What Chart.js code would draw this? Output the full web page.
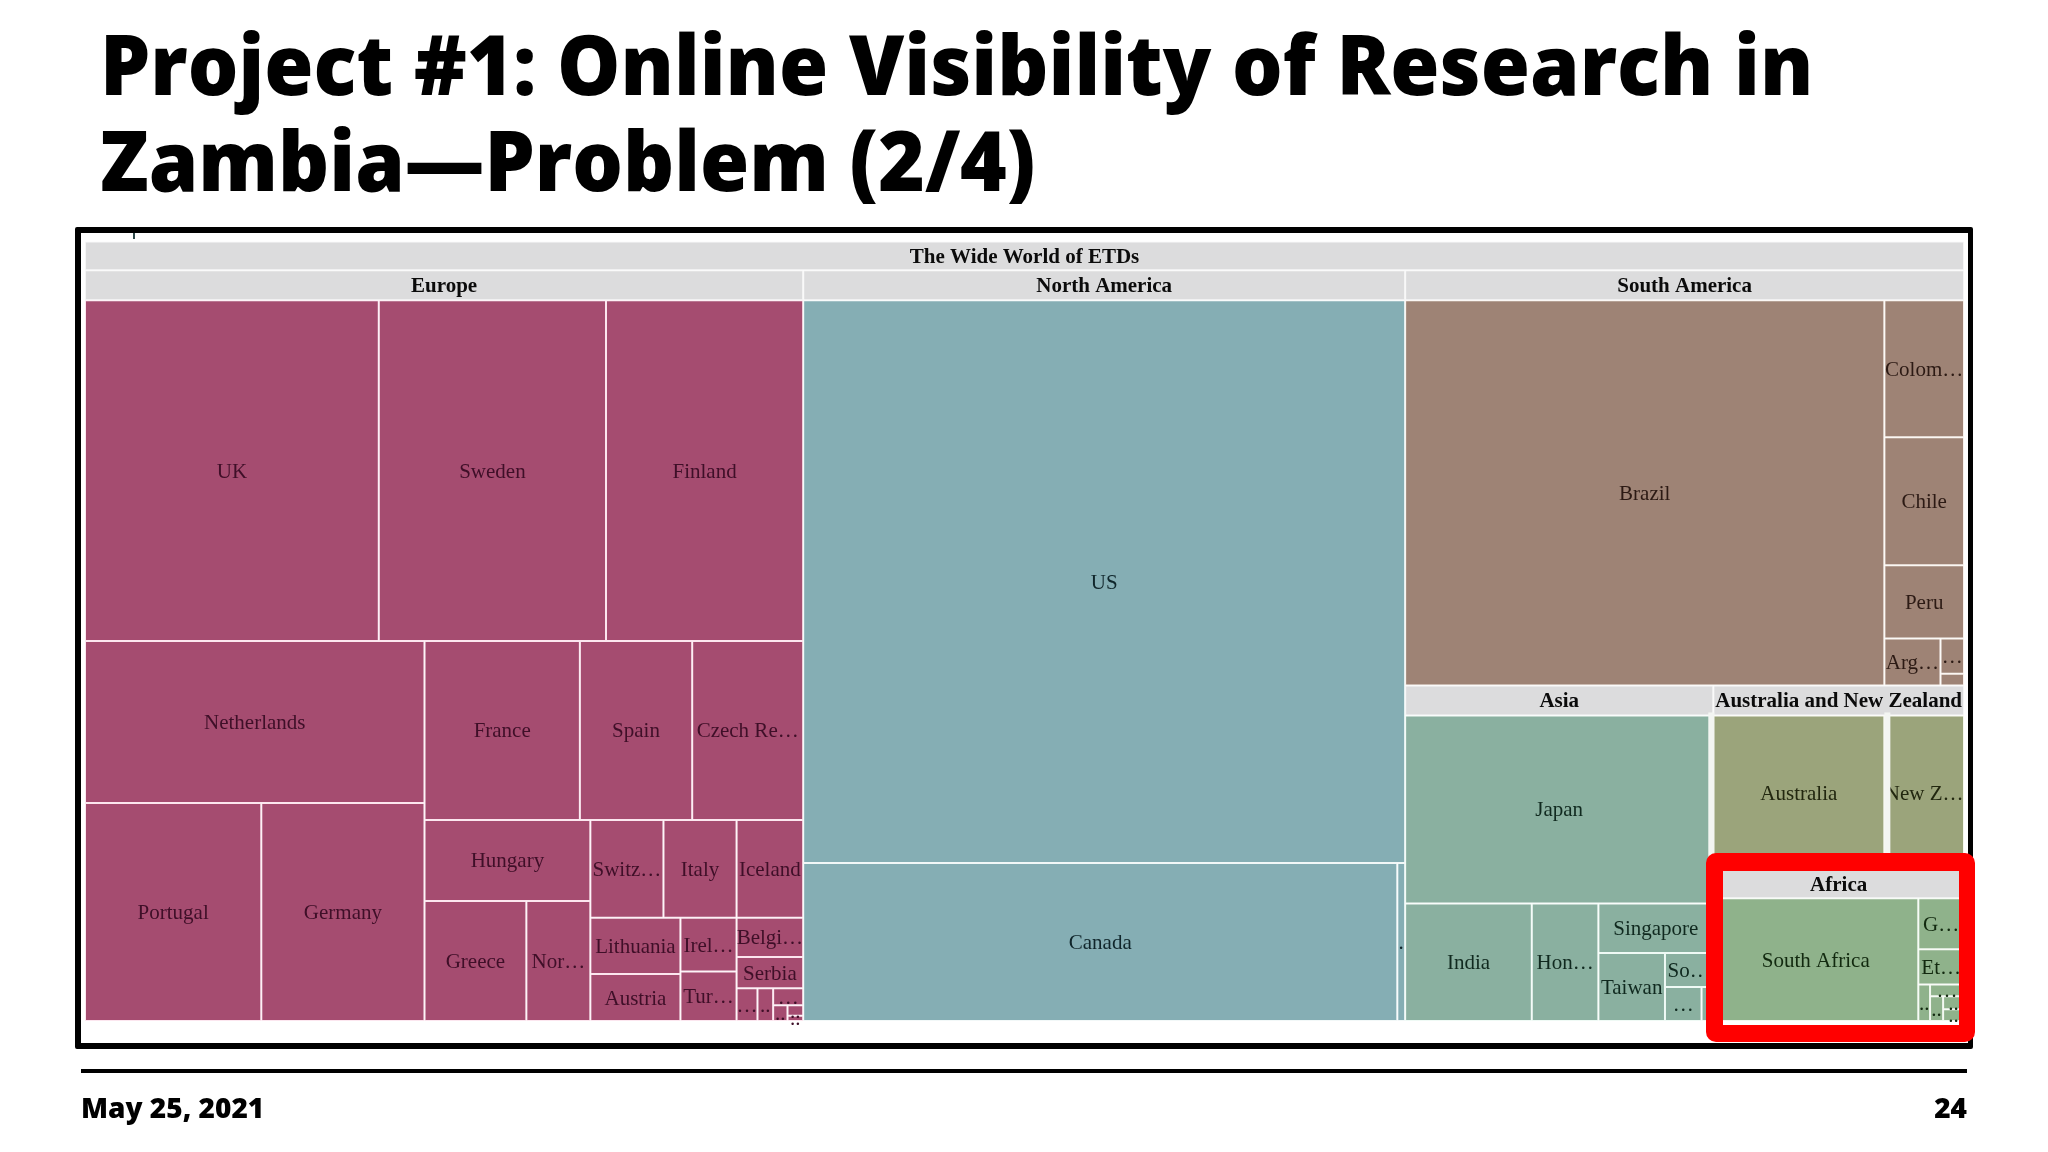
<!DOCTYPE html>
<html><head><meta charset="utf-8">
<style>
html,body{margin:0;padding:0;background:#fff;width:2048px;height:1152px;overflow:hidden}
#c{position:absolute;left:0;top:0}
.t{position:absolute;color:#000;font-family:"Open Sans";white-space:nowrap}
#title{left:100px;top:15px;font-size:83px;font-weight:800;line-height:96px;transform:scaleX(.96);transform-origin:0 0}
#frame{position:absolute;left:75px;top:227px;width:1887px;height:810px;border:solid #000;border-width:6px 5px 6px 6px;border-radius:2px}
#red{position:absolute;left:1706px;top:853px;width:236px;height:154px;border:solid #f00;border-width:18px 16px 17px 17px;border-radius:10px}
#rule{position:absolute;left:81px;top:1069px;width:1886px;height:4px;background:#000}
#date{left:81px;top:1088px;font-size:28px;font-weight:800}
#page{right:81px;top:1088px;font-size:28px;font-weight:800}
#stray{position:absolute;left:133px;top:233px;width:2px;height:6px;background:#2f4a4a}
</style>
<script src="https://cdn.jsdelivr.net/npm/chart.js@4/dist/chart.umd.min.js"></script>
</head><body>
<canvas id="c" width="2048" height="1152"></canvas>
<div id="stray"></div>
<div id="frame"></div>
<div id="red"></div>
<div id="rule"></div>
<div id="title" class="t">Project #1: Online Visibility of Research in<br>Zambia—Problem (2/4)</div>
<div id="date" class="t">May 25, 2021</div>
<div id="page" class="t">24</div>
<script>
const headerNames=['The Wide World of ETDs','Europe','North America','South America','Asia','Australia and New Zealand','Africa'];
const headerValues=[31658,12650,10603,9844,5428,4416,4224];

const europeNames=['UK','Sweden','Finland','Netherlands','Portugal','Germany','France','Spain','Czech Re…','Hungary','Greece','Nor…','Switz…','Italy','Iceland','Lithuania','Austria','Irel…','Tur…','Belgi…','Serbia','…','..','…','..','..','..'];
const europeValues=[58725,45414,39411,32240,22545,20875,16303,11782,11645,7874,7176,4508,4200,4200,3825,2967,2484,1763,1634,1530,1224,400,300,299,132,96,48];
const europeTree=['v',['h',0,1,2],['h',['v',3,['h',4,5]],['v',['h',6,7,8],['h',['v',9,['h',10,11]],['v',['h',12,13,14],['h',['v',15,16],['v',17,18],['v',19,20,['h',21,22,['v',23,['h',24,['v',25,26]]]]]]]]]]];

const northAmericaNames=['US','Canada','.'];
const northAmericaValues=[198691,55055,726];
const northAmericaTree=['v',0,['h',1,2]];

const southAmericaNames=['Brazil','Colom…','Chile','Peru','Arg…','…',''];
const southAmericaValues=[108265,6405,5978,3416,1548,486,162];
const southAmericaTree=['h',0,['v',1,2,3,['h',4,['v',5,6]]]];

const asiaNames=['Japan','India','Hon…','Singapore','Taiwan','So…','…','.'];
const asiaValues=[33984,8730,4590,3344,2652,962,728,234];
const asiaTree=['v',0,['h',1,2,['v',3,['h',4,['v',5,['h',6,7]]]]]];

const oceaniaNames=['Australia','New Z…'];
const oceaniaValues=[15458,7198];

const africaNames=['South Africa','G…','Et…','..','…','..','..','..'];
const africaValues=[14758,1365,945,252,234,190,160,144];
const africaTree=['h',0,['v',1,2,['h',3,['v',4,['h',5,['v',6,7]]]]]];

const groupFill={head:'#dcdcdd',europe:'#a54c70',northAmerica:'#85aeb4',southAmerica:'#9e8375',asia:'#8ab0a0',oceania:'#9ba47b',africa:'#8fb28b'};
const groupInk={head:'#0b0b0b',europe:'#3f0f28',northAmerica:'#10262b',southAmerica:'#2c1a14',asia:'#10291f',oceania:'#22270f',africa:'#12290f'};
const groupLine={head:'#f6f6f6',europe:'#fce6ef',northAmerica:'#f2f8f8',southAmerica:'#f8f1ec',asia:'#effaf5',oceania:'#f5f7ec',africa:'#f1f8ef'};
const retouchColor='#f3f5f2';

const sets={
  head:{names:headerNames,values:headerValues},
  europe:{names:europeNames,values:europeValues},
  northAmerica:{names:northAmericaNames,values:northAmericaValues},
  southAmerica:{names:southAmericaNames,values:southAmericaValues},
  asia:{names:asiaNames,values:asiaValues},
  oceania:{names:oceaniaNames,values:oceaniaValues},
  africa:{names:africaNames,values:africaValues}
};
const leaf=(group,i)=>({group,name:sets[group].names[i],value:sets[group].values[i]});
function bind(group,t){
  if(typeof t==='number')return leaf(group,t);
  return [t[0],...t.slice(1).map(k=>bind(group,k))];
}
const tree=['v',leaf('head',0),['h',
  ['v',leaf('head',1),bind('europe',europeTree)],
  ['v',leaf('head',2),bind('northAmerica',northAmericaTree)],
  ['v',
    ['v',leaf('head',3),bind('southAmerica',southAmericaTree)],
    ['h',
      ['v',leaf('head',4),bind('asia',asiaTree)],
      ['v',leaf('head',5),['h',leaf('oceania',0),leaf('oceania',1)],
           leaf('head',6),bind('africa',africaTree)]
    ]
  ]
]];
const weight=n=>Array.isArray(n)?n.slice(1).reduce((s,k)=>s+weight(k),0):n.value;
function place(n,x0,y0,x1,y1,out){
  if(!Array.isArray(n)){out.push({...n,x0,y0,x1,y1});return out;}
  const total=weight(n);let run=0;
  n.slice(1).forEach(k=>{
    const a=run/total;run+=weight(k);const b=run/total;
    if(n[0]==='h')place(k,x0+(x1-x0)*a,y0,x0+(x1-x0)*b,y1,out);
    else place(k,x0,y0+(y1-y0)*a,x1,y0+(y1-y0)*b,out);
  });
  return out;
}
const cells=place(tree,0,0,1,1,[]);

class TreemapController extends Chart.DatasetController{
  update(mode){const m=this._cachedMeta;this.updateElements(m.data,0,m.data.length,mode);}
  updateElements(els,start,count,mode){
    const {xScale,yScale}=this._cachedMeta,data=this.getDataset().data;
    for(let i=start;i<start+count;i++){
      const d=data[i],l=xScale.getPixelForValue(d.x0),r=xScale.getPixelForValue(d.x1),
            t=yScale.getPixelForValue(d.y0),b=yScale.getPixelForValue(d.y1);
      this.updateElement(els[i],i,{x:(l+r)/2,y:t,base:b,width:r-l,height:b-t,horizontal:false,inflateAmount:0,
        enableBorderRadius:false,borderSkipped:{top:false,bottom:false,left:false,right:false},
        options:{backgroundColor:groupFill[d.group],borderColor:groupLine[d.group],borderWidth:1,borderRadius:0}},'none');
    }
  }
  draw(){
    const ctx=this.chart.ctx,data=this.getDataset().data,els=this._cachedMeta.data;
    els.forEach(e=>e.draw(ctx));
    els.forEach((e,i)=>{
      const d=data[i];if(!d.name)return;
      ctx.save();
      ctx.beginPath();ctx.rect(e.x-e.width/2,e.y-30,e.width,e.height+60);ctx.clip();
      ctx.font=(d.group==='head'?'bold 21px':'21px')+' "Liberation Serif"';
      ctx.fillStyle=groupInk[d.group];ctx.textAlign='center';ctx.textBaseline='middle';
      ctx.fillText(d.name,e.x,(e.y+e.base)/2+1.5);
      ctx.restore();
    });
    /* pale retouch bands the slide shows beside Japan and New Zealand */
    const byName=n=>els[data.findIndex(d=>d.name===n)];
    const japan=byName('Japan'),nz=byName('New Z…');
    ctx.save();ctx.fillStyle=retouchColor;
    ctx.fillRect(japan.x+japan.width/2-5,japan.y-3,6,japan.height+3);
    ctx.fillRect(nz.x-nz.width/2,nz.y-3,6,nz.height+3);
    ctx.restore();
  }
}
TreemapController.id='treemap';
TreemapController.defaults={dataElementType:'bar',animation:false};
Chart.register(TreemapController,Chart.BarElement,Chart.LinearScale);

new Chart(document.getElementById('c'),{
  type:'treemap',
  data:{datasets:[{label:'The Wide World of ETDs',data:cells,parsing:false}]},
  options:{
    responsive:false,animation:false,events:[],
    layout:{padding:{left:85,right:84,top:241.5,bottom:131}},
    scales:{
      x:{type:'linear',display:false,min:0,max:1},
      y:{type:'linear',display:false,min:0,max:1,reverse:true}
    },
    plugins:{legend:{display:false},title:{display:false},tooltip:{enabled:false}}
  }
});
</script>
</body></html>
